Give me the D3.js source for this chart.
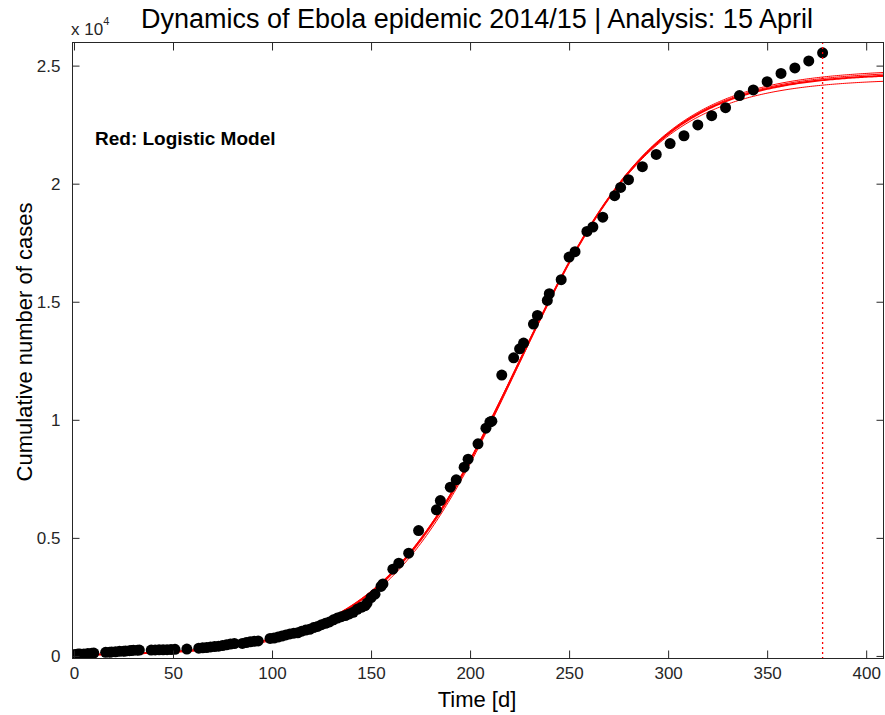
<!DOCTYPE html>
<html>
<head>
<meta charset="utf-8">
<script src="https://cdn.jsdelivr.net/npm/d3@7.9.0/dist/d3.min.js"></script>
<style>
    body { margin: 0; background: #fff; }
    svg { display: block; font-family: "Liberation Sans", Arial, sans-serif; }
</style>
</head>
<body>
<svg id="chart" width="885" height="715"></svg>
<script>
// observed cumulative cases (day since start, cases)
const days = [
    0, 1, 2, 3, 5, 7, 9, 10,
    16, 18, 19, 21, 23, 25, 26, 28, 29, 30, 32, 33,
    39, 41, 43, 45, 47, 49, 51, 57,
    63, 65, 67, 69, 71, 73, 75, 77, 79, 81,
    85, 87, 89, 91, 93,
    99, 101, 103, 105, 107, 109, 111, 113, 115, 117, 119, 121, 123, 125, 127,
    129, 131, 133, 135, 137, 139, 141, 143, 145, 147, 148, 150, 152, 155,
    156, 161, 164, 169, 174, 183, 185, 190, 193, 197, 199, 204, 208, 210, 211,
    216, 222, 225, 227, 232, 234, 239, 240, 246, 250, 253, 259, 262, 267,
    273, 276, 280, 287, 294, 301, 308, 315, 322, 329, 336, 343, 350, 357, 364, 371, 378
];
const cases = [
    49, 59, 80, 86, 86, 103, 112, 122,
    151, 158, 168, 175, 197, 203, 208, 222, 231, 236, 242, 248,
    248, 253, 258, 260, 267, 270, 281, 290,
    328, 344, 354, 380, 398, 413, 438, 470, 500, 526,
    528, 567, 599, 620, 635,
    742, 759, 800, 844, 888, 930, 964, 982, 1048, 1093, 1130, 1201, 1250, 1323, 1380,
    1440, 1528, 1603, 1660, 1711, 1779, 1848, 1975, 2060, 2127, 2240, 2473, 2615, 2945,
    3051, 3672, 3927, 4350, 5311, 6186, 6581, 7147, 7458, 7994, 8333, 8983, 9647, 9902, 9940,
    11893, 12627, 13008, 13249, 14055, 14420, 15055, 15339, 15932, 16894, 17119, 17979, 18165, 18580,
    19490, 19840, 20170, 20720, 21240, 21700, 22030, 22490, 22880, 23220, 23730, 23970, 24320, 24670, 24900, 25200, 25540
];

// logistic fits: K / (1 + exp(-r (t - t0)))
const fitK = [24850, 24780, 24700, 24450];
const fitR = [0.0280, 0.0281, 0.0283, 0.0290];
const fitT0 = [224.5, 224.4, 224.3, 224.0];
const fitWidth = [1, 1, 2, 1];

const analysisDay = 378;
const xTicks = [0, 50, 100, 150, 200, 250, 300, 350, 400];
const yTicks = [0, 5000, 10000, 15000, 20000, 25000];

const svg = d3.select("#chart");
const box = { left: 72, right: 884, top: 42, bottom: 659 };

const x = d3.scaleLinear().domain([-1, 409]).range([box.left, box.right]);
const y = d3.scaleLinear().domain([-130, 26000]).range([box.bottom, box.top]);

svg.append("defs").append("clipPath").attr("id", "clip")
    .append("rect")
    .attr("x", box.left).attr("y", box.top)
    .attr("width", box.right - box.left).attr("height", box.bottom - box.top);

const plot = svg.append("g").attr("clip-path", "url(#clip)");

// model curves
const tGrid = d3.range(-1, 410, 1);
fitK.forEach((K, i) => {
    const line = d3.line()
        .x((t) => x(t))
        .y((t) => y(K / (1 + Math.exp(-fitR[i] * (t - fitT0[i])))));
    plot.append("path")
        .attr("d", line(tGrid))
        .attr("fill", "none")
        .attr("stroke", "#ff0000")
        .attr("stroke-width", fitWidth[i]);
});

// data points
plot.selectAll("circle")
    .data(days.map((d, i) => [d, cases[i]]))
    .join("circle")
    .attr("cx", (d) => x(d[0]))
    .attr("cy", (d) => y(d[1]))
    .attr("r", 5.5)
    .attr("fill", "#000");

// analysis date
plot.append("line")
    .attr("x1", x(analysisDay)).attr("x2", x(analysisDay))
    .attr("y1", box.top).attr("y2", box.bottom)
    .attr("stroke", "#ff0000")
    .attr("stroke-width", 1.3)
    .attr("stroke-dasharray", "2,3");

// axes box with inward ticks
const axisColor = "#262626";
svg.append("rect")
    .attr("x", box.left + 0.5).attr("y", box.top + 0.5)
    .attr("width", box.right - box.left - 1).attr("height", box.bottom - box.top - 1)
    .attr("fill", "none").attr("stroke", axisColor);

const xAxis = d3.axisBottom(x).tickValues(xTicks).tickSizeInner(-8).tickSizeOuter(0).tickPadding(8);
const xAxisTop = d3.axisTop(x).tickValues(xTicks).tickSizeInner(-8).tickSizeOuter(0).tickFormat("");
const yAxis = d3.axisLeft(y).tickValues(yTicks).tickSizeInner(-7).tickSizeOuter(0).tickPadding(12)
    .tickFormat((d) => d3.format("~g")(d / 10000));
const yAxisRight = d3.axisRight(y).tickValues(yTicks).tickSizeInner(-7).tickSizeOuter(0).tickFormat("");

function styleAxis(g) {
    g.select(".domain").remove();
    g.selectAll("line").attr("stroke", axisColor);
    g.selectAll("text")
        .attr("fill", axisColor)
        .style("font-size", "17px")
        .style("font-family", "'Liberation Sans', Arial, sans-serif");
}

svg.append("g").attr("transform", `translate(0,${box.bottom - 0.5})`).call(xAxis).call(styleAxis);
svg.append("g").attr("transform", `translate(0,${box.top + 0.5})`).call(xAxisTop).call(styleAxis);
svg.append("g").attr("transform", `translate(${box.left + 0.5},0)`).call(yAxis).call(styleAxis);
svg.append("g").attr("transform", `translate(${box.right - 0.5},0)`).call(yAxisRight).call(styleAxis);

// exponent label
const expo = svg.append("text")
    .attr("x", box.left - 1).attr("y", 35)
    .attr("fill", axisColor)
    .style("font-size", "17px");
expo.append("tspan").text("x 10");
expo.append("tspan").attr("dy", -10).style("font-size", "11px").text("4");

// titles
svg.append("text")
    .attr("x", 477).attr("y", 28)
    .attr("text-anchor", "middle")
    .style("font-size", "27px")
    .text("Dynamics of Ebola epidemic 2014/15 | Analysis: 15 April");

svg.append("text")
    .attr("x", 477).attr("y", 707)
    .attr("text-anchor", "middle")
    .style("font-size", "22px")
    .text("Time [d]");

svg.append("text")
    .attr("transform", `translate(32,342) rotate(-90)`)
    .attr("text-anchor", "middle")
    .style("font-size", "22px")
    .text("Cumulative number of cases");

svg.append("text")
    .attr("x", 95).attr("y", 145)
    .style("font-size", "19px")
    .style("font-weight", "bold")
    .text("Red: Logistic Model");
</script>
</body>
</html>
